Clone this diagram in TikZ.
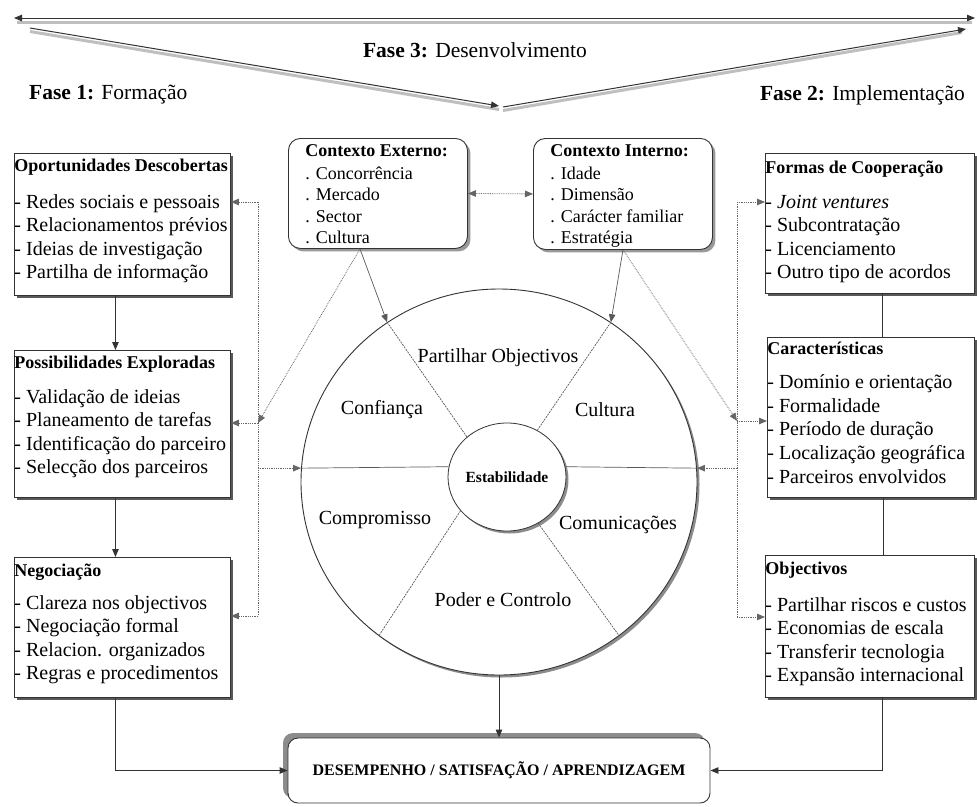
\documentclass[tikz,border=0pt]{standalone}
\usepackage{fontspec}
\setmainfont{Liberation Serif}
\usetikzlibrary{arrows.meta,shadows,shapes.geometric,calc}
\newcommand{\isk}{23.3pt}
\newcommand{\bxt}[6]{\parbox[t][#2][t]{#1}{\raggedright\parindent=0pt\rule{0pt}{#3}\fontsize{18}{18}\selectfont\bfseries #5\par\fontsize{20}{\isk}\selectfont\mdseries\vspace*{#4}#6\par}}
\newcommand{\cxt}[4]{\parbox[t][#2][t]{#1}{\raggedright\parindent=0pt\leftskip=17pt\rule{0pt}{18pt}\fontsize{18}{18}\selectfont\bfseries #3\par\fontsize{18}{21.3}\selectfont\mdseries\vspace*{1.7pt}#4\par}}
\tikzset{
  arr/.style={-{Triangle[length=8pt,width=6.5pt]}},
  arrs/.style={{Triangle[length=8pt,width=6.5pt]}-{Triangle[length=8pt,width=6.5pt]}},
  dots/.style={densely dotted, line width=0.8pt, black!60},
  solidc/.style={line width=0.9pt, black!80},
  thinc/.style={line width=0.7pt, black!65},
  spoke/.style={line width=0.7pt, black!65, dash pattern=on 2pt off 1pt},
  sqbox/.style={draw=black!80, line width=0.9pt, fill=white, inner sep=0pt, anchor=north west,
    drop shadow={shadow xshift=3pt, shadow yshift=-3pt, fill=black!65, opacity=1}},
  ctxbox/.style={draw=black!80, line width=0.9pt, fill=white, inner sep=0pt, anchor=north west,
    rounded corners=12pt, drop shadow={shadow xshift=3pt, shadow yshift=-3pt, fill=black!40, opacity=1}},
  fase/.style={font=\fontsize{21.5}{24}\selectfont, inner sep=0pt},
  lbl/.style={font=\fontsize{20}{22}\selectfont, inner sep=0pt},
  band/.style={line width=3pt, black!25},
  phase/.style={line width=1pt, black!80}
}
\begin{document}
\begin{tikzpicture}[x=1pt,y=-1pt]
\useasboundingbox (0,0) rectangle (977,806);

% ---- phase arrows
\coordinate (tl) at (14,18);
\coordinate (tr) at (975,18);
\coordinate (vl) at (30,28);
\coordinate (vb) at (499,106);
\coordinate (vb2) at (503,107);
\coordinate (vr) at (966,29);
\draw[band] ($(tl)+(3,4)$) -- ($(tr)+(-3,4)$);
\draw[phase, arrs] (tl) -- (tr);
\draw[band] ($(vl)+(0,3.5)$) -- ($(vb)+(0,3.5)$);
\draw[phase, arr] (vl) -- (vb);
\draw[band] ($(vb2)+(0,3.5)$) -- ($(vr)+(-4,3.5)$);
\draw[phase, arr] (vb2) -- (vr);

\node[fase] (f3) at (475,50) {\textbf{Fase 3:} Desenvolvimento};
\node[fase, anchor=west] (f1) at (29,95) {\textbf{Fase 1:} Formação};
\node[fase, anchor=east] (f2) at (965,95) {\textbf{Fase 2:} Implementação};

% ---- left boxes
\node[sqbox] (b1) at (14,153) {\bxt{216pt}{142pt}{18pt}{13.7pt}{Oportunidades Descobertas}{- Redes sociais e pessoais\\- Relacionamentos prévios\\- Ideias de investigação\\- Partilha de informação}};
\node[sqbox] (b2) at (14,350) {\bxt{216pt}{147pt}{18pt}{11.7pt}{Possibilidades Exploradas}{- Validação de ideias\\- Planeamento de tarefas\\- Identificação do parceiro\\- Selecção dos parceiros}};
\node[sqbox] (b3) at (14,557) {\bxt{216pt}{140pt}{19pt}{9.7pt}{Negociação}{- Clareza nos objectivos\\- Negociação formal\\- Relacion. organizados\\- Regras e procedimentos}};

% ---- right boxes
\node[sqbox] (r1) at (765,153) {\bxt{209pt}{140pt}{20pt}{11.7pt}{Formas de Cooperação}{- \textit{Joint ventures}\\- Subcontratação\\- Licenciamento\\- Outro tipo de acordos}};
\node[sqbox] (r2) at (767,337) {\renewcommand{\isk}{23.7pt}\bxt{207pt}{160pt}{17pt}{10.3pt}{Características}{- Domínio e orientação\\- Formalidade\\- Período de duração\\- Localização geográfica\\- Parceiros envolvidos}};
\node[sqbox] (r3) at (765,555) {\bxt{209pt}{142pt}{19pt}{13.7pt}{Objectivos}{- Partilhar riscos e custos\\- Economias de escala\\- Transferir tecnologia\\- Expansão internacional}};

% ---- context boxes
\node[ctxbox] (ext) at (288,138) {\cxt{179pt}{110pt}{Contexto Externo:}{. Concorrência\\. Mercado\\. Sector\\. Cultura}};
\node[ctxbox] (int) at (533,138) {\cxt{179pt}{111pt}{Contexto Interno:}{. Idade\\. Dimensão\\. Carácter familiar\\. Estratégia}};

% ---- circle
\node[ellipse, draw=black!80, line width=0.9pt, fill=white, minimum width=396pt, minimum height=386pt, inner sep=0pt,
  drop shadow={shadow xshift=2.5pt, shadow yshift=-2.5pt, fill=black!45, opacity=1}] (big) at (499,482) {};
\node[ellipse, draw=black!80, line width=0.8pt, fill=white, minimum width=118pt, minimum height=108pt, inner sep=0pt,
  drop shadow={shadow xshift=2.5pt, shadow yshift=-2.5pt, fill=black!45, opacity=1},
  font=\fontsize{15.5}{17}\selectfont\bfseries] (small) at (507,477) {Estabilidade};

\draw[spoke] (small.135) -- (big.125);
\draw[spoke] (small.57) -- (big.55);
\draw[spoke] (small.216) -- (big.232);
\draw[spoke] (small.304) -- (big.308);
\draw[thinc] (small.170) -- (big.176);
\draw[thinc] (small.10) -- (big.4);

\node[lbl] (lp) at (498,358) {Partilhar Objectivos};
\node[lbl] (lcf) at (382,410) {Confiança};
\node[lbl] (lcu) at (605,410) {Cultura};
\node[lbl] (lco) at (375,520) {Compromisso};
\node[lbl] (lcm) at (618,525) {Comunicações};
\node[lbl] (lpc) at (503,600) {Poder e Controlo};

% ---- bottom box
\node[draw=black!80, line width=0.9pt, fill=white, rounded corners=10pt, minimum width=422pt, minimum height=65pt, inner sep=0pt,
  drop shadow={shadow xshift=-5pt, shadow yshift=5pt, fill=black!45, opacity=1},
  font=\fontsize{16}{18}\selectfont\bfseries] (bot) at (499,770.5) {DESEMPENHO / SATISFAÇÃO / APRENDIZAGEM};

% ---- coordinates of the dotted rails
\coordinate (lvA) at (258,202);
\coordinate (lvB) at (258,423);
\coordinate (lvC) at (258,616);
\coordinate (rvA) at (737,202);
\coordinate (rvB) at (737,421);
\coordinate (rvC) at (737,617);
\coordinate (lvD) at (big.176 -| lvA);
\coordinate (rvD) at (big.4 -| rvA);
\coordinate (extb) at ($(ext.south west)!0.4!(ext.south east)$);
\coordinate (intb) at (int.south);

% ---- left rail
\draw[dots] (lvA) -- (lvC);
\draw[dots, arr] (lvA) -- (lvA -| b1.east);
\draw[dots, arr] (lvB) -- (lvB -| b2.east);
\draw[dots, arr] (lvC) -- (lvC -| b3.east);
\draw[dots, arr] (lvD) -- (big.176);
\draw[dots, arr] (extb) -- (lvB);

% ---- right rail
\draw[dots] (rvA) -- (rvC);
\draw[dots, arr] (rvA) -- (rvA -| r1.west);
\draw[dots, arr] (rvB) -- (rvB -| r2.west);
\draw[dots, arr] (rvC) -- (rvC -| r3.west);
\draw[dots, arr] (rvD) -- (big.4);
\draw[dots, arr] (intb) -- (rvB);

% ---- context links
\draw[dots, arrs] (ext.east) -- (int.west);
\draw[thinc, arr] (extb) -- (big.125);
\draw[thinc, arr] (intb) -- (big.55);

% ---- box chains
\draw[solidc, arr] ([xshift=-7pt]b1.south) -- ([xshift=-7pt]b2.north);
\draw[solidc, arr] ([xshift=-7pt]b2.south) -- ([xshift=-7pt]b3.north);
\draw[solidc] ([xshift=12pt]r1.south) -- ([xshift=12pt]r1.south |- r2.north);
\draw[solidc] ([xshift=12pt]r2.south) -- ([xshift=12pt]r2.south |- r3.north);

% ---- to the bottom box
\draw[solidc, arr] (big.south) -- (bot.north);
\draw[solidc, arr] ([xshift=-7pt]b3.south) |- (bot.west);
\draw[solidc, arr] ([xshift=12pt]r3.south) |- (bot.east);
\end{tikzpicture}
\end{document}
